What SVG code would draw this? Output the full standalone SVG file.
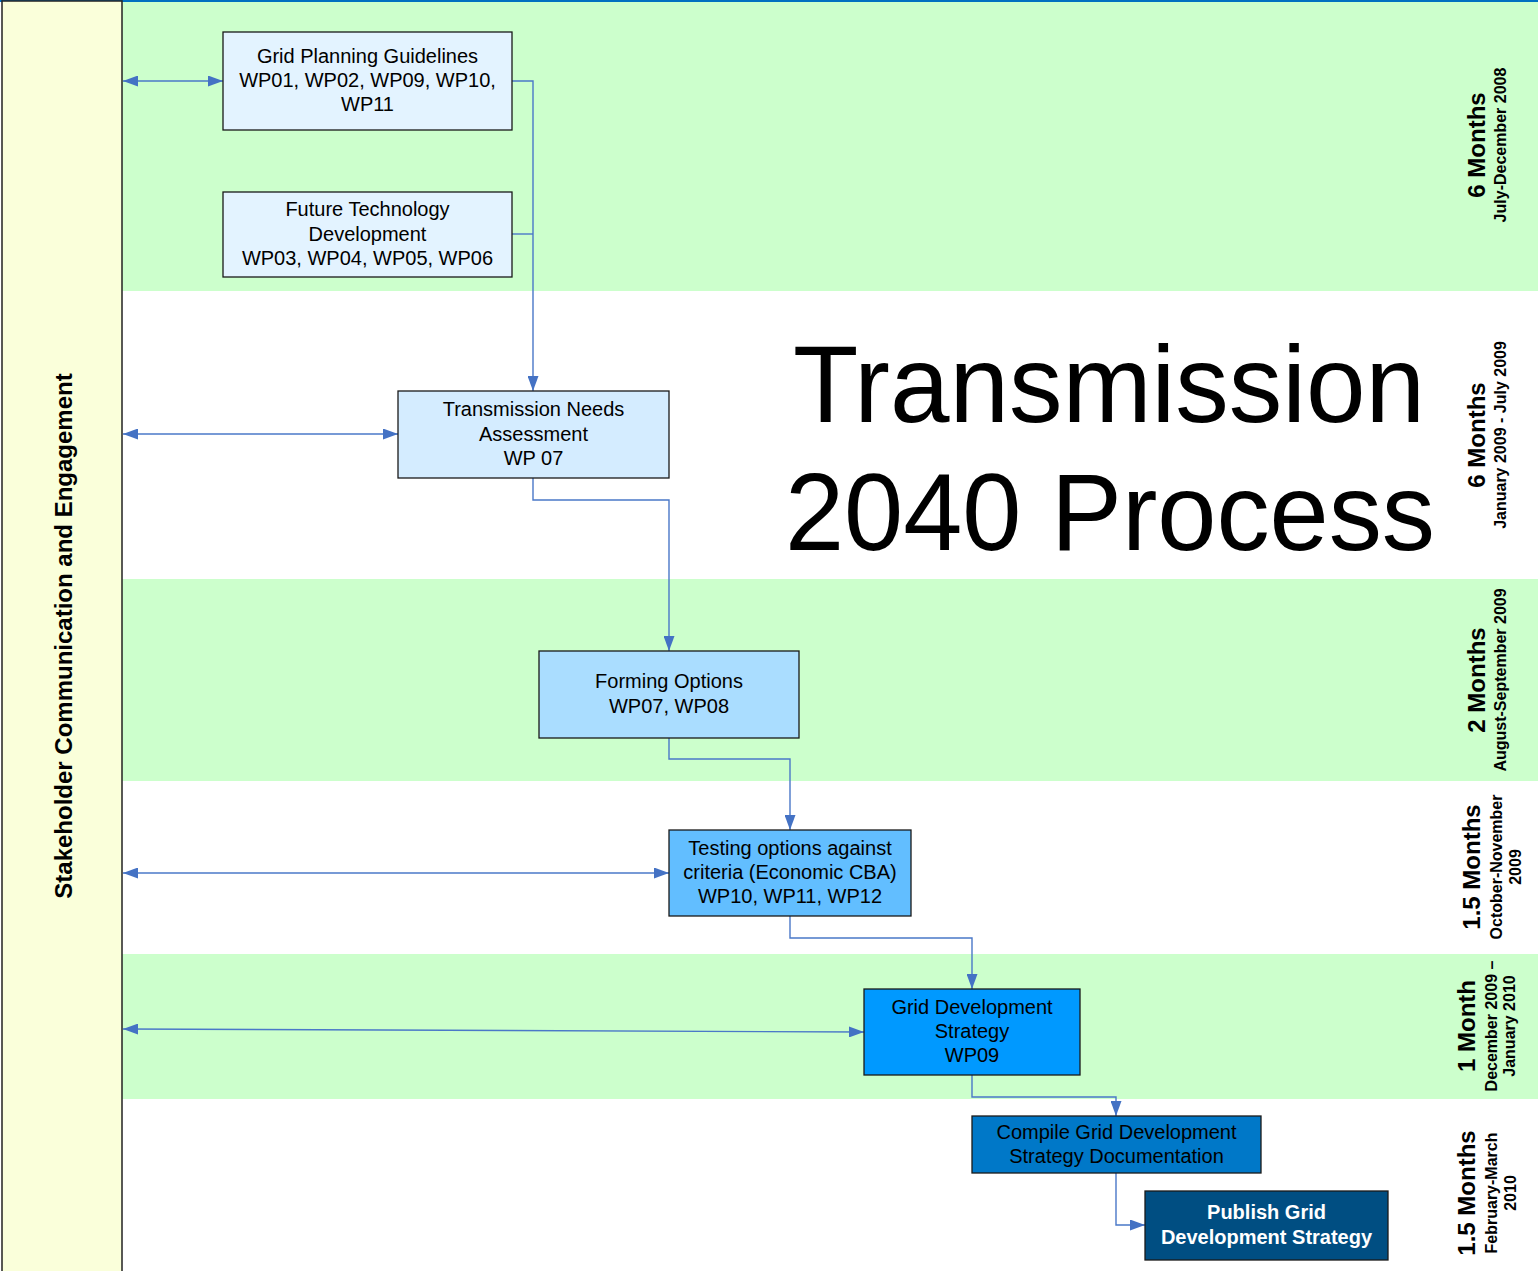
<svg xmlns="http://www.w3.org/2000/svg" width="1538" height="1271" viewBox="0 0 1538 1271">
<defs>
<style>
.band{fill:#CCFFCC}
.box{stroke:#1a1a1a;stroke-width:1.3}
.t{font-family:"Liberation Sans",Arial,sans-serif;font-size:20px;fill:#000;text-anchor:middle}
.tw{font-family:"Liberation Sans",Arial,sans-serif;font-size:20px;font-weight:bold;fill:#fff;text-anchor:middle}
.dur{font-family:"Liberation Sans",Arial,sans-serif;font-size:24px;font-weight:bold;fill:#000;text-anchor:middle}
.date{font-family:"Liberation Sans",Arial,sans-serif;font-size:16px;font-weight:bold;fill:#000;text-anchor:middle}
.title{font-family:"Liberation Sans",Arial,sans-serif;font-size:110px;fill:#000}
.c{fill:none;stroke:#4A78C8;stroke-width:1.4}
</style>
<marker id="ah" viewBox="0 0 15 11" refX="15" refY="5.5" markerWidth="15" markerHeight="11" markerUnits="userSpaceOnUse" orient="auto-start-reverse">
<path d="M0,0 L15,5.5 L0,11 Z" fill="#4472C4"/>
</marker>
</defs>
<rect x="0" y="0" width="1538" height="1271" fill="#fff"/>
<g id="bands">
<rect class="band" x="122" y="0" width="1416" height="291"/>
<rect class="band" x="122" y="579" width="1416" height="202"/>
<rect class="band" x="122" y="954" width="1416" height="145"/>
<line x1="0" y1="1" x2="1538" y2="1" stroke="#0070C0" stroke-width="2"/>
</g>
<g id="stakeholder">
<rect x="2" y="1" width="120" height="1272" fill="#FAFFDA" stroke="#222" stroke-width="1.5"/>
<text transform="translate(72,636) rotate(-90)" font-family="Liberation Sans,Arial,sans-serif" font-size="24" font-weight="bold" text-anchor="middle">Stakeholder Communication and Engagement</text>
</g>
<g id="title">
<text class="title" x="793" y="422" textLength="632" lengthAdjust="spacingAndGlyphs">Transmission</text>
<text class="title" x="785" y="550" textLength="650" lengthAdjust="spacingAndGlyphs">2040 Process</text>
</g>
<g id="timeline">
<text class="dur" transform="translate(1485,145) rotate(-90)">6 Months</text>
<text class="date" transform="translate(1506,145) rotate(-90)">July-December 2008</text>
<text class="dur" transform="translate(1485,435) rotate(-90)">6 Months</text>
<text class="date" transform="translate(1506,435) rotate(-90)">January 2009 - July 2009</text>
<text class="dur" transform="translate(1485,680) rotate(-90)">2 Months</text>
<text class="date" transform="translate(1506,680) rotate(-90)">August-September 2009</text>
<text class="dur" transform="translate(1480,867) rotate(-90)">1.5 Months</text>
<text class="date" transform="translate(1502,867) rotate(-90)">October-November</text>
<text class="date" transform="translate(1521,867) rotate(-90)">2009</text>
<text class="dur" transform="translate(1475,1026) rotate(-90)">1 Month</text>
<text class="date" transform="translate(1497,1026) rotate(-90)">December 2009 –</text>
<text class="date" transform="translate(1515,1026) rotate(-90)">January 2010</text>
<text class="dur" transform="translate(1475,1193) rotate(-90)">1.5 Months</text>
<text class="date" transform="translate(1497,1193) rotate(-90)">February-March</text>
<text class="date" transform="translate(1516,1193) rotate(-90)">2010</text>
</g>
<g id="connectors">
<line class="c" x1="123" y1="81" x2="223" y2="81" marker-start="url(#ah)" marker-end="url(#ah)"/>
<polyline class="c" points="512,81 533,81 533,391" marker-end="url(#ah)"/>
<polyline class="c" points="512,234 533,234"/>
<line class="c" x1="123" y1="434" x2="398" y2="434" marker-start="url(#ah)" marker-end="url(#ah)"/>
<polyline class="c" points="533,478 533,500 669,500 669,651" marker-end="url(#ah)"/>
<polyline class="c" points="669,738 669,759 790,759 790,830" marker-end="url(#ah)"/>
<line class="c" x1="123" y1="873" x2="669" y2="873" marker-start="url(#ah)" marker-end="url(#ah)"/>
<polyline class="c" points="790,916 790,938 972,938 972,989" marker-end="url(#ah)"/>
<line class="c" x1="123" y1="1029" x2="864" y2="1032" marker-start="url(#ah)" marker-end="url(#ah)"/>
<polyline class="c" points="972,1075 972,1097 1116,1097 1116,1116" marker-end="url(#ah)"/>
<polyline class="c" points="1116,1173 1116,1225 1145,1225" marker-end="url(#ah)"/>
</g>
<g id="n1">
<rect class="box" x="223" y="32" width="289" height="98" fill="#E3F3FF"/>
<text class="t" x="367.5" y="63">Grid Planning Guidelines</text>
<text class="t" x="367.5" y="87">WP01, WP02, WP09, WP10,</text>
<text class="t" x="367.5" y="111">WP11</text>
</g>
<g id="n2">
<rect class="box" x="223" y="192" width="289" height="85" fill="#E3F3FF"/>
<text class="t" x="367.5" y="216">Future Technology</text>
<text class="t" x="367.5" y="241">Development</text>
<text class="t" x="367.5" y="265">WP03, WP04, WP05, WP06</text>
</g>
<g id="n3">
<rect class="box" x="398" y="391" width="271" height="87" fill="#D4ECFF"/>
<text class="t" x="533.5" y="416">Transmission Needs</text>
<text class="t" x="533.5" y="441">Assessment</text>
<text class="t" x="533.5" y="465">WP 07</text>
</g>
<g id="n4">
<rect class="box" x="539" y="651" width="260" height="87" fill="#AADDFF"/>
<text class="t" x="669" y="688">Forming Options</text>
<text class="t" x="669" y="713">WP07, WP08</text>
</g>
<g id="n5">
<rect class="box" x="669" y="830" width="242" height="86" fill="#62BEFF"/>
<text class="t" x="790" y="855">Testing options against</text>
<text class="t" x="790" y="879">criteria (Economic CBA)</text>
<text class="t" x="790" y="903">WP10, WP11, WP12</text>
</g>
<g id="n6">
<rect class="box" x="864" y="989" width="216" height="86" fill="#0099FF"/>
<text class="t" x="972" y="1014">Grid Development</text>
<text class="t" x="972" y="1038">Strategy</text>
<text class="t" x="972" y="1062">WP09</text>
</g>
<g id="n7">
<rect class="box" x="972" y="1116" width="289" height="57" fill="#0078C8"/>
<text class="t" x="1116.5" y="1139">Compile Grid Development</text>
<text class="t" x="1116.5" y="1163">Strategy Documentation</text>
</g>
<g id="n8">
<rect class="box" x="1145" y="1191" width="243" height="69" fill="#004E82"/>
<text class="tw" x="1266.5" y="1219">Publish Grid</text>
<text class="tw" x="1266.5" y="1244">Development Strategy</text>
</g>
</svg>
